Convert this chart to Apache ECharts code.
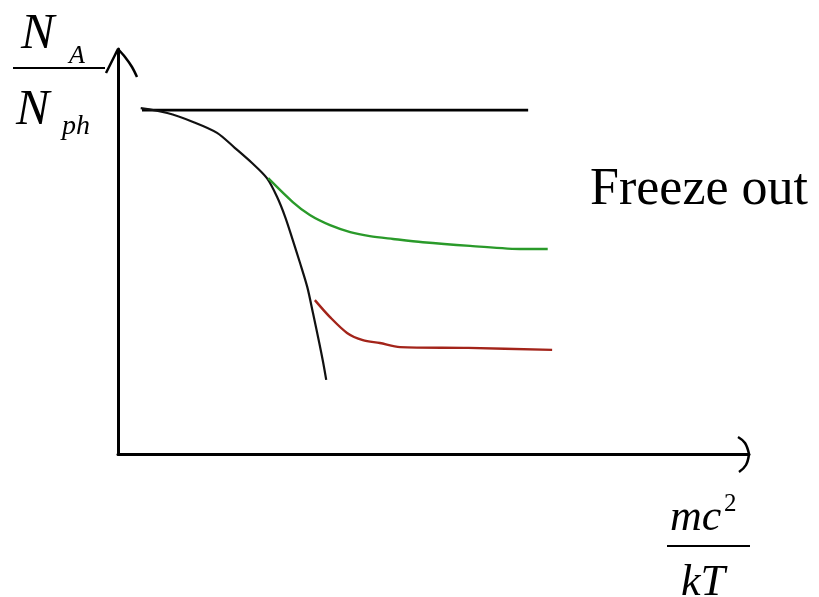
<!DOCTYPE html>
<html>
<head>
<meta charset="utf-8">
<script src="https://cdn.jsdelivr.net/npm/echarts@6/dist/echarts.min.js"></script>
<style>
html,body{margin:0;padding:0;background:#fff;}
#c{width:819px;height:597px;}
</style>
</head>
<body>
<div id="c"></div>
<script>
// Axis ranges (arbitrary units)
const xRange = [0, 10];
const yRange = [0, 10];

// Horizontal line
const flatX = [0.38, 6.50];
const flatY = [8.49, 8.49];

// Black equilibrium curve
const eqX = [0.36, 0.78, 1.19, 1.57, 1.85, 2.12, 2.36, 2.52, 2.65, 2.77, 2.88, 3.00, 3.09, 3.19, 3.25, 3.30];
const eqY = [8.54, 8.42, 8.20, 7.93, 7.56, 7.19, 6.81, 6.35, 5.85, 5.28, 4.74, 4.12, 3.48, 2.74, 2.27, 1.83];

// Green freeze-out curve
const greenX = [2.38, 2.77, 3.04, 3.36, 3.68, 3.99, 4.36, 4.83, 5.58, 6.42, 6.81];
const greenY = [6.81, 6.22, 5.90, 5.65, 5.48, 5.38, 5.31, 5.23, 5.14, 5.06, 5.06];

// Red freeze-out curve
const redX = [3.12, 3.36, 3.63, 3.88, 4.15, 4.47, 5.55, 6.88];
const redY = [3.80, 3.38, 2.99, 2.81, 2.74, 2.64, 2.62, 2.57];

function pairs(xs, ys){ return xs.map((x,i)=>[x, ys[i]]); }

const chart = echarts.init(document.getElementById('c'), null, {renderer:'canvas'});
const serif = '"Liberation Serif", "Times New Roman", serif';

const option = {
  animation: false,
  backgroundColor: '#fff',
  grid: {left: 118, right: 70, top: 49, bottom: 143, containLabel: false},
  xAxis: {
    type: 'value', min: xRange[0], max: xRange[1],
    axisLine: {show: true, onZero: false, lineStyle: {color: '#000', width: 3}},
    axisTick: {show: false}, axisLabel: {show: false}, splitLine: {show: false}
  },
  yAxis: {
    type: 'value', min: yRange[0], max: yRange[1],
    axisLine: {show: true, onZero: false, lineStyle: {color: '#000', width: 3}},
    axisTick: {show: false}, axisLabel: {show: false}, splitLine: {show: false}
  },
  series: [
    {type: 'line', data: pairs(flatX, flatY), showSymbol: false,
     lineStyle: {color: '#000', width: 2.6}},
    {type: 'line', data: pairs(eqX, eqY), showSymbol: false, smooth: 0.3,
     lineStyle: {color: '#111', width: 2.2}},
    {type: 'line', data: pairs(greenX, greenY), showSymbol: false, smooth: 0.3,
     lineStyle: {color: '#2a9a2a', width: 2.4}},
    {type: 'line', data: pairs(redX, redY), showSymbol: false, smooth: 0.3,
     lineStyle: {color: '#a3241a', width: 2.4}}
  ]
};
chart.setOption(option);

// Arrow heads at the axis ends, computed from the axis scale
const xTip = chart.convertToPixel({gridIndex: 0}, [xRange[1], yRange[0]]);
const yTip = chart.convertToPixel({gridIndex: 0}, [xRange[0], yRange[1]]);
const arrowStyle = {stroke: '#000', lineWidth: 2.5, fill: null};

function txt(text, x, y, size, italic){
  return {type: 'text', style: {text: text, x: x, y: y,
    font: (italic ? 'italic ' : '') + size + 'px ' + serif,
    fill: '#000', textAlign: 'left', textVerticalAlign: 'middle', verticalAlign: 'middle'}};
}

chart.setOption({
  graphic: [
    {type: 'polyline', shape: {points: [[xTip[0]-11, xTip[1]-17],[xTip[0]-4, xTip[1]-11],[xTip[0], xTip[1]]], smooth: 0.4}, style: arrowStyle},
    {type: 'polyline', shape: {points: [[xTip[0], xTip[1]],[xTip[0]-3, xTip[1]+11],[xTip[0]-10, xTip[1]+18]], smooth: 0.4}, style: arrowStyle},
    {type: 'polyline', shape: {points: [[yTip[0]-12, yTip[1]+24],[yTip[0]-8, yTip[1]+16],[yTip[0]-3, yTip[1]+6],[yTip[0], yTip[1]]], smooth: 0.3}, style: arrowStyle},
    {type: 'polyline', shape: {points: [[yTip[0], yTip[1]],[yTip[0]+7, yTip[1]+8],[yTip[0]+14, yTip[1]+18],[yTip[0]+19, yTip[1]+28]], smooth: 0.3}, style: arrowStyle},

    // y-axis label: N_A / N_ph
    txt('N', 21, 35, 50, true),
    txt('A', 69, 56, 26, true),
    {type: 'line', shape: {x1: 13, y1: 68, x2: 105, y2: 68}, style: {stroke: '#000', lineWidth: 2}},
    txt('N', 16, 111, 50, true),
    txt('ph', 62, 127, 28, true),

    // x-axis label: mc^2 / kT
    txt('mc', 670, 518, 44, true),
    txt('2', 724, 504, 25, false),
    {type: 'line', shape: {x1: 667, y1: 546, x2: 750, y2: 546}, style: {stroke: '#000', lineWidth: 2}},
    txt('kT', 681, 583, 44, true),

    // annotation
    txt('Freeze out', 590, 190, 52, false)
  ]
});
</script>
</body>
</html>
